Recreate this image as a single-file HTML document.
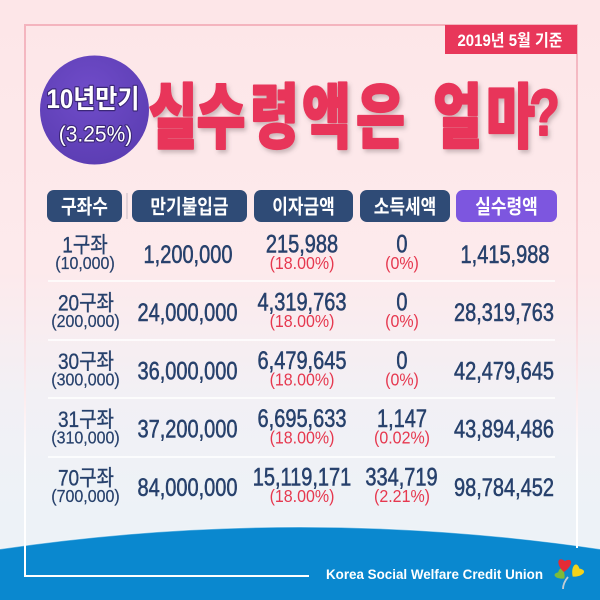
<!DOCTYPE html>
<html><head><meta charset="utf-8"><style>
html,body{margin:0;padding:0;background:#fde8ea;}
svg{display:block;}
</style></head><body>
<svg width="600" height="600" viewBox="0 0 600 600" xmlns="http://www.w3.org/2000/svg">
<defs>
<linearGradient id="bg" x1="0" y1="0" x2="0" y2="1">
<stop offset="0" stop-color="#fde6e8"/>
<stop offset="0.45" stop-color="#fdeaec"/>
<stop offset="0.66" stop-color="#f2f0f5"/>
<stop offset="0.85" stop-color="#edf2f7"/>
<stop offset="1" stop-color="#edf2f7"/>
</linearGradient>
<linearGradient id="fr" x1="0" y1="25" x2="0" y2="576" gradientUnits="userSpaceOnUse">
<stop offset="0" stop-color="#f4b4be"/>
<stop offset="0.5" stop-color="#f8d2d8"/>
<stop offset="0.8" stop-color="#ffffff"/>
<stop offset="1" stop-color="#ffffff"/>
</linearGradient>
<radialGradient id="circ" cx="0.45" cy="0.35" r="0.7">
<stop offset="0" stop-color="#704cc9"/>
<stop offset="1" stop-color="#5b3db2"/>
</radialGradient>
<filter id="sh" x="-10%" y="-10%" width="130%" height="140%">
<feDropShadow dx="2" dy="3" stdDeviation="2" flood-color="#6a5a60" flood-opacity="0.35"/>
</filter>
</defs>
<rect width="600" height="600" fill="url(#bg)"/>

<!-- blue bottom -->
<path d="M0,549 Q300,505 600,549 L600,600 L0,600 Z" fill="#0a88cf"/>
<path d="M0,549 Q300,505 600,549" fill="none" stroke="#ffffff" stroke-opacity="0.45" stroke-width="1.2"/>

<!-- frame -->
<path d="M577,548 L577,25 L25,25 L25,576 L309,576" fill="none" stroke="url(#fr)" stroke-width="2"/>

<!-- badge -->
<rect x="445" y="25" width="132" height="29" fill="#e8375a"/>
<text transform="translate(510,46) scale(1,1.1)" text-anchor="middle" font-family="'Liberation Sans','Noto Sans CJK KR',sans-serif" font-size="15" font-weight="bold" fill="#ffffff">2019년 5월 기준</text>

<!-- circle -->
<circle cx="94.5" cy="110" r="54.5" fill="url(#circ)"/>
<g font-family="'Liberation Sans','Noto Sans CJK KR',sans-serif" fill="#ffffff" stroke="#3b2777" stroke-width="2.2" paint-order="stroke" stroke-linejoin="round" text-anchor="middle">
<text transform="translate(93,108) scale(1,1.1)" font-size="24" font-weight="bold">10년만기</text>
<text transform="translate(95.5,141.5) scale(1,1.05)" font-size="21">(3.25%)</text>
</g>

<!-- title -->
<g filter="url(#sh)" font-family="'Liberation Sans','Noto Sans CJK KR',sans-serif" font-weight="900" fill="#e8365a" stroke="#e8365a" stroke-width="1.6" stroke-linejoin="round" text-anchor="middle" font-size="53">
<text transform="translate(173,142) scale(1,1.33)">실</text>
<text transform="translate(221,142) scale(1,1.33)">수</text>
<text transform="translate(274.5,142) scale(1,1.33)">령</text>
<text transform="translate(326.5,142) scale(1,1.33)">액</text>
<text transform="translate(380.5,142) scale(1,1.33)">은</text>
<text transform="translate(457.5,142) scale(1,1.33)">얼</text>
<text transform="translate(510.5,142) scale(1,1.33)">마</text>
<text transform="translate(544.5,135) scale(1,1.3)" font-size="50" font-weight="bold">?</text>
</g>

<!-- header pills -->
<rect x="47" y="190" width="75" height="32" rx="7" fill="#2f4b76"/>
<rect x="132" y="190" width="115" height="32" rx="7" fill="#2f4b76"/>
<rect x="254" y="190" width="99" height="32" rx="7" fill="#2f4b76"/>
<rect x="360" y="190" width="90" height="32" rx="7" fill="#2f4b76"/>
<rect x="456" y="190" width="101" height="32" rx="7" fill="#7d56df"/>
<line x1="127" y1="193" x2="127" y2="219" stroke="#c9bcc4" stroke-width="1"/>
<g font-family="'Liberation Sans','Noto Sans CJK KR',sans-serif" font-weight="bold" fill="#ffffff" text-anchor="middle" font-size="17">
<text transform="translate(84.5,213.5) scale(1,1.18)">구좌수</text>
<text transform="translate(189.5,213.5) scale(1,1.18)">만기불입금</text>
<text transform="translate(303.5,213.5) scale(1,1.18)">이자금액</text>
<text transform="translate(405,213.5) scale(1,1.18)">소득세액</text>
<text transform="translate(506.5,213.5) scale(1,1.18)">실수령액</text>
</g>

<!-- separators -->
<g stroke="#ffffff" stroke-width="1.5">
<line x1="48" y1="281" x2="555" y2="281"/>
<line x1="48" y1="340" x2="555" y2="340"/>
<line x1="48" y1="398" x2="555" y2="398"/>
<line x1="48" y1="457" x2="555" y2="457"/>
</g>

<!-- table data -->
<g font-family="'Liberation Sans','Noto Sans CJK KR',sans-serif" text-anchor="middle">
<g font-size="19" fill="#27416c" stroke="#27416c" stroke-width="0.3">
<text transform="translate(85,252.5) scale(1,1.18)">1구좌</text>
<text transform="translate(86,310.7) scale(1,1.18)">20구좌</text>
<text transform="translate(86,368.9) scale(1,1.18)">30구좌</text>
<text transform="translate(86,427.1) scale(1,1.18)">31구좌</text>
<text transform="translate(86,485.3) scale(1,1.18)">70구좌</text>
</g>
<g font-size="16" fill="#27416c" stroke="#27416c" stroke-width="0.2">
<text transform="translate(85,269) scale(1,1.12)">(10,000)</text>
<text transform="translate(85.5,327.2) scale(1,1.12)">(200,000)</text>
<text transform="translate(85.5,385.4) scale(1,1.12)">(300,000)</text>
<text transform="translate(85.5,443.6) scale(1,1.12)">(310,000)</text>
<text transform="translate(85.5,501.8) scale(1,1.12)">(700,000)</text>
</g>
<g font-size="20" fill="#27416c" stroke="#27416c" stroke-width="0.45">
<text transform="translate(188,263) scale(1,1.25)">1,200,000</text>
<text transform="translate(187.5,321.2) scale(1,1.25)">24,000,000</text>
<text transform="translate(187.5,379.4) scale(1,1.25)">36,000,000</text>
<text transform="translate(187.5,437.6) scale(1,1.25)">37,200,000</text>
<text transform="translate(187.5,495.8) scale(1,1.25)">84,000,000</text>

<text transform="translate(505,263) scale(1,1.25)">1,415,988</text>
<text transform="translate(504,321.2) scale(1,1.25)">28,319,763</text>
<text transform="translate(504,379.4) scale(1,1.25)">42,479,645</text>
<text transform="translate(504,437.6) scale(1,1.25)">43,894,486</text>
<text transform="translate(504,495.8) scale(1,1.25)">98,784,452</text>

<text transform="translate(302,252.5) scale(1,1.25)">215,988</text>
<text transform="translate(302,310.7) scale(1,1.25)">4,319,763</text>
<text transform="translate(302,368.9) scale(1,1.25)">6,479,645</text>
<text transform="translate(302,427.1) scale(1,1.25)">6,695,633</text>
<text transform="translate(302,485.3) scale(1,1.25)">15,119,171</text>

<text transform="translate(402,252.5) scale(1,1.25)">0</text>
<text transform="translate(402,310.7) scale(1,1.25)">0</text>
<text transform="translate(402,368.9) scale(1,1.25)">0</text>
<text transform="translate(402,427.1) scale(1,1.25)">1,147</text>
<text transform="translate(401.5,485.3) scale(1,1.25)">334,719</text>
</g>
<g font-size="16" fill="#e6384f">
<text transform="translate(302,269) scale(1,1.12)">(18.00%)</text>
<text transform="translate(302,327.2) scale(1,1.12)">(18.00%)</text>
<text transform="translate(302,385.4) scale(1,1.12)">(18.00%)</text>
<text transform="translate(302,443.6) scale(1,1.12)">(18.00%)</text>
<text transform="translate(302,501.8) scale(1,1.12)">(18.00%)</text>

<text transform="translate(402,269) scale(1,1.12)">(0%)</text>
<text transform="translate(402,327.2) scale(1,1.12)">(0%)</text>
<text transform="translate(402,385.4) scale(1,1.12)">(0%)</text>
<text transform="translate(402,443.6) scale(1,1.12)">(0.02%)</text>
<text transform="translate(402,501.8) scale(1,1.12)">(2.21%)</text>
</g>
</g>

<!-- footer text -->
<text x="326" y="579" textLength="217" lengthAdjust="spacingAndGlyphs" font-family="'Liberation Sans',sans-serif" font-size="14" font-weight="bold" fill="#ffffff">Korea Social Welfare Credit Union</text>

<!-- logo -->
<path d="M568,577 Q563,583 563,589" fill="none" stroke="#c3ccd2" stroke-width="1.8"/>
<g transform="translate(560.5,574.5) rotate(-45) scale(0.8)"><path d="M0,7 C-9,0 -8,-9 0,-4 C8,-9 9,0 0,7 Z" fill="#7dbb3a"/></g>
<g transform="translate(577,571.5) rotate(40) scale(0.95)"><path d="M0,7 C-9,0 -8,-9 0,-4 C8,-9 9,0 0,7 Z" fill="#f4d21a"/></g>
<g transform="translate(564.5,565) rotate(5) scale(1.0)"><path d="M0,7 C-9,0 -8,-9 0,-4 C8,-9 9,0 0,7 Z" fill="#e52b35"/></g>
</svg>
</body></html>
